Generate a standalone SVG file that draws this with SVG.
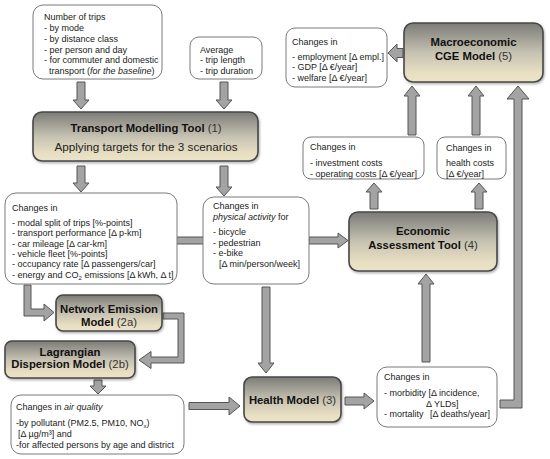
<svg xmlns="http://www.w3.org/2000/svg" width="550" height="459" viewBox="0 0 550 459">
<defs>
<linearGradient id="ng" x1="0" y1="0" x2="0" y2="1">
<stop offset="0" stop-color="#7b7b77"/>
<stop offset="0.5" stop-color="#c6c2b2"/>
<stop offset="0.85" stop-color="#e8dfc2"/>
<stop offset="1" stop-color="#ece4c9"/>
</linearGradient>
<filter id="sh" x="-10%" y="-10%" width="120%" height="130%">
<feDropShadow dx="1" dy="1.5" stdDeviation="1" flood-color="#000" flood-opacity="0.3"/>
</filter>
<style>
.node{fill:url(#ng);stroke:#474747;stroke-width:1.6;filter:url(#sh)}
.box{fill:#fff;stroke:#7a7a7a;stroke-width:1}
.arr{fill:#a3a3a3;stroke:#555;stroke-width:1;stroke-linejoin:miter}
text{font-family:"Liberation Sans",Arial,sans-serif;fill:#222}
.t{font-size:9px}
.h{font-size:11.3px;font-weight:bold;text-anchor:middle;fill:#111}
.n{font-weight:normal;fill:#333}
.sub{font-size:6px}
</style>
</defs>
<rect width="550" height="459" fill="#fff"/>

<g id="connectors">
<polygon class="arr" points="77,82 85,82 85,100 89,100 81,109 73,100 77,100"/>
<polygon class="arr" points="220,82 228,82 228,100 232,100 224,109 216,100 220,100"/>
<polygon class="arr" points="77,166 85,166 85,183 89,183 81,192 73,183 77,183"/>
<polygon class="arr" points="220,166 228,166 228,187 232,187 224,196 216,187 220,187"/>
<rect class="arr" x="176" y="237" width="28" height="7"/>
<polygon class="arr" points="309,237 338,237 338,233 348,240.5 338,248 338,244 309,244"/>
<polygon class="arr" points="370,209 378,209 378,192 382,192 374,183 366,192 370,192"/>
<polygon class="arr" points="475,209 483,209 483,192 487,192 479,183 471,192 475,192"/>
<polygon class="arr" points="408,135 416,135 416,96 420,96 412,86 404,96 408,96"/>
<polygon class="arr" points="472,135 480,135 480,96 484,96 476,86 468,96 472,96"/>
<polygon class="arr" points="500,400 514,400 514,99 507,99 518,86 529,99 522,99 522,408 500,408"/>
<polygon class="arr" points="422,362 430,362 430,284 434,284 426,274 418,284 422,284"/>
<polygon class="arr" points="403,48.5 397,48.5 397,44 388,53 397,62 397,57.5 403,57.5"/>
<polygon class="arr" points="262,287 270,287 270,363 274,363 266,373 258,363 262,363"/>
<polygon class="arr" points="345,397 364,397 364,393 374,401 364,409 364,405 345,405"/>
<polygon class="arr" points="189,402.5 229,402.5 229,397 240,406 229,415 229,409.5 189,409.5"/>
<polygon class="arr" points="94,380 102,380 102,386 106,386 98,394 90,386 94,386"/>
<polygon class="arr" points="24,285 31,285 31,309 44,309 44,304 54,312.5 44,321 44,316 24,316"/>
<polygon class="arr" points="163,313 184,313 184,363 151,363 151,368.5 139,360 151,351.5 151,357 178,357 178,319 163,319"/>
</g>

<g id="trips">
<rect class="box" x="33" y="5" width="129" height="74" rx="10"/>
<text class="t" x="44" y="20">Number of trips</text>
<text class="t" x="44" y="31">- by mode</text>
<text class="t" x="44" y="41.5">- by distance class</text>
<text class="t" x="44" y="52.5">- per person and day</text>
<text class="t" x="44" y="63">- for commuter and domestic</text>
<text class="t" x="49" y="74">transport (<tspan font-style="italic">for the baseline</tspan>)</text>
</g>

<g id="average">
<rect class="box" x="190" y="37" width="72" height="42" rx="9"/>
<text class="t" x="200" y="52.5">Average</text>
<text class="t" x="200" y="63">- trip length</text>
<text class="t" x="200" y="74">- trip duration</text>
</g>

<g id="tmt">
<rect class="node" x="33" y="112" width="225" height="49" rx="9"/>
<text class="h" x="146" y="131.5">Transport Modelling Tool <tspan class="n">(1)</tspan></text>
<text x="146" y="151" font-size="11.7" text-anchor="middle">Applying targets for the 3 scenarios</text>
</g>

<g id="transport-changes">
<rect class="box" x="5" y="193" width="172" height="91" rx="11"/>
<text class="t" x="12" y="210.5">Changes in</text>
<text class="t" x="12" y="226">- modal split of trips [%-points]</text>
<text class="t" x="12" y="236">- transport performance [Δ p-km]</text>
<text class="t" x="12" y="246.5">- car mileage [Δ car-km]</text>
<text class="t" x="12" y="256.5">- vehicle fleet [%-points]</text>
<text class="t" x="12" y="267">- occupancy rate [Δ passengers/car]</text>
<text class="t" x="12" y="277.5">- energy and CO<tspan class="sub" dy="2">2</tspan><tspan dy="-2"> emissions [Δ kWh, Δ t]</tspan></text>
</g>

<g id="activity">
<rect class="box" x="203" y="197" width="106" height="87" rx="11"/>
<text class="t" x="213" y="209">Changes in</text>
<text class="t" x="213" y="220"><tspan font-style="italic">physical activity</tspan> for</text>
<text class="t" x="213" y="235">- bicycle</text>
<text class="t" x="213" y="246">- pedestrian</text>
<text class="t" x="213" y="256">- e-bike</text>
<text class="t" x="219" y="267">[Δ min/person/week]</text>
</g>

<g id="eat">
<rect class="node" x="349" y="212" width="148" height="59" rx="9"/>
<text class="h" x="423" y="235">Economic</text>
<text class="h" x="423" y="249">Assessment Tool <tspan class="n">(4)</tspan></text>
</g>

<g id="costs">
<rect class="box" x="303" y="137" width="121" height="42" rx="8"/>
<text class="t" x="310" y="150">Changes in</text>
<text class="t" x="310" y="166">- investment costs</text>
<text class="t" x="310" y="176.5">- operating costs [Δ €/year]</text>
</g>

<g id="health-costs">
<rect class="box" x="437" y="137" width="69" height="42" rx="8"/>
<text class="t" x="446" y="151">Changes in</text>
<text class="t" x="446" y="166">health costs</text>
<text class="t" x="446" y="176.5">[Δ €/year]</text>
</g>

<g id="cge">
<rect class="node" x="404" y="23" width="139" height="59" rx="9"/>
<text class="h" x="473.5" y="46.3">Macroeconomic</text>
<text class="h" x="473.5" y="59.7">CGE Model <tspan class="n">(5)</tspan></text>
</g>

<g id="macro-changes">
<rect class="box" x="286" y="28" width="101" height="59" rx="9"/>
<text class="t" x="292" y="45">Changes in</text>
<text class="t" x="292" y="60">- employment [Δ empl.]</text>
<text class="t" x="292" y="70">- GDP [Δ €/year]</text>
<text class="t" x="292" y="81">- welfare [Δ €/year]</text>
</g>

<g id="nem">
<rect class="node" x="56" y="295" width="106" height="36" rx="7"/>
<text class="h" x="109" y="313.3">Network Emission</text>
<text class="h" x="109" y="325.7">Model <tspan class="n">(2a)</tspan></text>
</g>

<g id="ldm">
<rect class="node" x="5" y="341" width="130" height="37" rx="7"/>
<text class="h" x="70" y="356">Lagrangian</text>
<text class="h" x="70" y="368.3">Dispersion Model <tspan class="n">(2b)</tspan></text>
</g>

<g id="air-quality">
<rect class="box" x="11" y="395" width="173" height="59" rx="10"/>
<text class="t" x="16" y="410">Changes in <tspan font-style="italic">air quality</tspan></text>
<text class="t" x="16" y="426">-by pollutant (PM2.5, PM10, NO<tspan class="sub" dy="2">x</tspan><tspan dy="-2">)</tspan></text>
<text class="t" x="18" y="437">[Δ µg/m³] and</text>
<text class="t" x="16" y="447.5">-for affected persons by age and district</text>
</g>

<g id="health">
<rect class="node" x="244" y="377" width="97" height="45" rx="8"/>
<text class="h" x="292.5" y="404">Health Model <tspan class="n">(3)</tspan></text>
</g>

<g id="health-changes">
<rect class="box" x="377" y="367" width="120" height="60" rx="10"/>
<text class="t" x="384" y="380">Changes in</text>
<text class="t" x="384" y="396">- morbidity [Δ incidence,</text>
<text class="t" x="426" y="406.5">Δ YLDs]</text>
<text class="t" x="384" y="417">- mortality<tspan x="430">[Δ deaths/year]</tspan></text>
</g>
</svg>
